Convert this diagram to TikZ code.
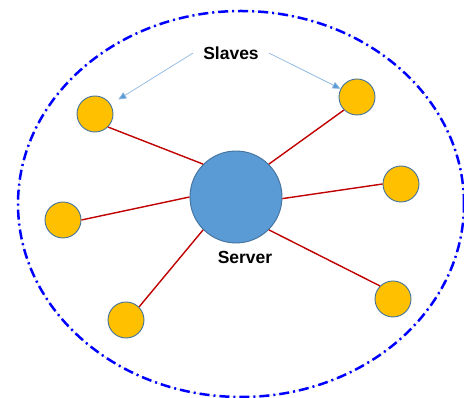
\documentclass[tikz,border=0pt]{standalone}
\usepackage{fontspec}
\setmainfont{Liberation Sans}
\usetikzlibrary{arrows.meta}
\definecolor{ringblue}{RGB}{0,0,255}
\definecolor{linkred}{RGB}{192,0,0}
\definecolor{slavefill}{RGB}{255,192,0}
\definecolor{serverfill}{RGB}{91,155,213}
\definecolor{rimblue}{RGB}{65,113,156}
\definecolor{pointerblue}{RGB}{140,182,224}
\tikzset{
	slave/.style={circle, inner sep=0pt, minimum size=36pt, fill=slavefill, draw=rimblue, line width=0.9pt},
	server/.style={circle, inner sep=0pt, minimum size=92pt, fill=serverfill, draw=rimblue, line width=0.9pt},
	link/.style={draw=linkred, line width=1.4pt},
	pointer/.style={draw=pointerblue, line width=0.7pt, -{Triangle[length=8pt,width=7pt,fill=serverfill]}},
	lbl/.style={font=\fontsize{17.5}{20}\selectfont\bfseries, inner ysep=2pt}
}

\begin{document}
\begin{tikzpicture}[x=1pt, y=1pt]
			%%%%% START %%%%%
			\useasboundingbox (0, 0) rectangle (464, 398);
			
			% the ring round the cluster
			\draw[gray!35, line width=0.4pt] (241, 194) ellipse (223 and 193);
			\draw[ringblue, line width=2.5pt, dash pattern=on 10pt off 4pt on 2pt off 4pt] (241, 194) ellipse (223 and 193);
			
			\node[server] (srv) at (236, 201) {};
			\node[lbl] (srvlbl) at (245, 141) {Server};
			
			\node[slave] (s1) at (95, 284) {};
			\node[slave] (s2) at (357, 301) {};
			\node[slave] (s3) at (401, 214) {};
			\node[slave] (s4) at (63, 178) {};
			\node[slave] (s5) at (126, 78) {};
			\node[slave] (s6) at (393, 99) {};
			
			% links to the server
			\draw[link] (s1.-45) -- (srv.135);
			\draw[link] (s2.225) -- (srv.45);
			\draw[link] (s3.180) -- (srv.-2);
			\draw[link] (s4.0) -- (srv.180);
			\draw[link] (s5.45) -- (srv.225);
			\draw[link] (s6.135) -- (srv.-45);
			
			\node[lbl, inner xsep=10pt] (slvlbl) at (231, 345) {Slaves};
			\draw[pointer, shorten >=9pt] (slvlbl.west) -- (s1);
			\draw[pointer] (slvlbl.east) -- (s2);
			%%%%% END %%%%%
		\end{tikzpicture}
\end{document}
